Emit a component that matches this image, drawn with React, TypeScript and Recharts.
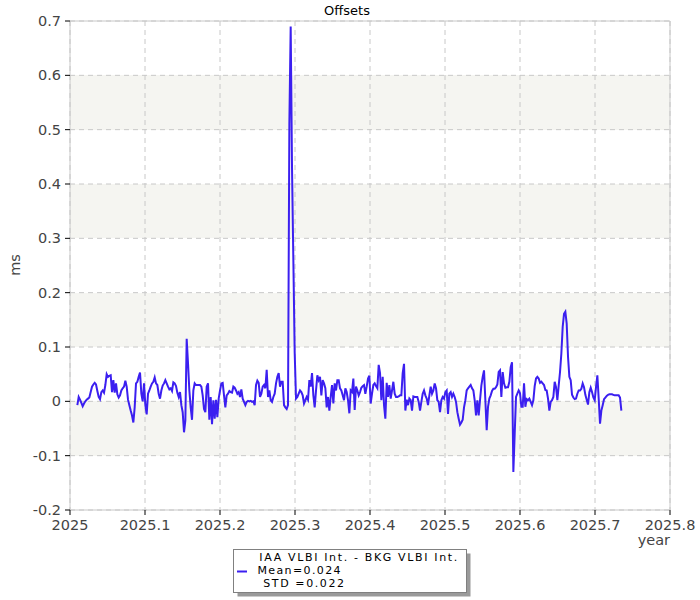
import { LineChart, Line, XAxis, YAxis, CartesianGrid, ReferenceLine } from "recharts"

// daily-ish offsets (ms), first sample at firstYear
const firstYear = 2025.0098
const yearStep = 0.0017778

const offsetsA = [
  -0.007, 0.008, 0.003, -0.003, -0.009, -0.004, 0.0, 0.003, 0.005, 0.007,
  0.017, 0.027, 0.031, 0.034, 0.031, 0.019, 0.008, 0.004, 0.017, 0.02,
  0.016, 0.03, 0.05, 0.045, 0.047, 0.048, 0.017, 0.039, 0.016, 0.033,
  0.013, 0.007, 0.011, 0.02, 0.024, 0.027, 0.038, 0.027, 0.003, -0.007,
  -0.017, -0.026, -0.039, -0.011, 0.033, 0.036, 0.045, 0.053, 0.014, 0.0,
  0.033, -0.007, -0.024, 0.014, 0.02, 0.027, 0.033, 0.036, 0.044, 0.033,
  0.03, 0.014, 0.005, 0.02, 0.029, 0.033, 0.039, 0.033, 0.027, 0.022,
  0.024, 0.019, 0.035, 0.033, 0.028, 0.016, 0.008, 0.017, -0.007, -0.02,
  -0.057, -0.035, 0.115, 0.07, 0.02, -0.011, -0.034, 0.02, 0.033, 0.03,
  0.03, 0.03, 0.03, 0.027, 0.011, -0.014, -0.02, 0.027, 0.033, -0.034,
]
const offsetsB = [
  0.008, -0.042, 0.002, -0.032, 0.003, -0.029, 0.005, 0.02, 0.033, 0.034,
  0.011, -0.011, 0.011, 0.014, 0.019, 0.017, 0.016, 0.027, 0.025, 0.02,
  0.014, 0.017, 0.008, 0.022, 0.005, -0.001, -0.007, -0.001, 0.001, 0.0,
  0.001, -0.001, 0.0, -0.007, 0.03, 0.038, 0.034, 0.008, 0.014, 0.027,
  0.03, 0.024, 0.058, 0.008, 0.02, 0.002, -0.001, 0.008, 0.014, 0.033,
  0.045, 0.052, 0.027, 0.036, 0.036, -0.007, -0.011, -0.014, -0.007, 0.51,
  0.69, 0.43, 0.26, 0.09, 0.005, 0.008, 0.014, 0.02, 0.017, 0.011,
  -0.004, 0.002, 0.008, 0.003, 0.039, 0.027, 0.052, 0.011, -0.011, 0.02,
  0.048, 0.039, 0.045, 0.011, 0.039, 0.033, 0.024, -0.011, 0.008, -0.017,
  0.008, 0.03, -0.004, 0.033, 0.02, 0.039, 0.039, 0.024, 0.02, 0.011,
]
const offsetsC = [
  0.002, 0.024, 0.017, 0.002, -0.022, 0.02, 0.017, 0.042, -0.016, 0.027,
  0.02, 0.011, 0.017, 0.025, 0.028, 0.03, 0.014, 0.027, 0.042, 0.047,
  -0.004, 0.014, 0.03, 0.033, 0.028, 0.024, 0.067, 0.052, 0.002, 0.045,
  -0.007, -0.032, 0.034, 0.008, 0.03, 0.005, 0.02, 0.036, 0.014, 0.008,
  0.008, 0.009, 0.011, 0.011, 0.052, 0.069, -0.017, 0.003, -0.007, 0.005,
  0.002, -0.017, 0.009, 0.008, 0.008, 0.008, -0.001, -0.017, -0.001, 0.014,
  0.02, 0.011, 0.005, -0.007, 0.011, 0.027, 0.014, 0.02, 0.033, 0.024,
  0.002, -0.001, -0.02, 0.002, 0.008, 0.005, 0.017, 0.02, -0.023, 0.014,
  0.017, 0.008, 0.014, 0.008, -0.001, -0.02, -0.032, -0.043, -0.039, -0.034,
  -0.011, 0.002, 0.02, 0.024, 0.027, 0.03, 0.024, 0.02, 0.002,
]
const offsetsD = [
  -0.026, 0.002, -0.026, 0.002, 0.029, 0.045, 0.057, 0.002, -0.053, -0.01, 0.005,
  0.011, 0.019, 0.023, 0.023, 0.026, 0.031, 0.054, 0.057, 0.008, 0.054,
  0.033, 0.025, 0.026, 0.026, 0.036, 0.063, 0.072, -0.13, -0.06, 0.008,
  0.014, 0.02, 0.015, -0.01, -0.01, 0.033, -0.01, 0.004, 0.002, 0.005,
  -0.001, -0.007, 0.002, 0.028, 0.042, 0.045, 0.042, 0.034, 0.036, 0.033,
  0.03, 0.021, 0.02, 0.005, -0.017, -0.001, 0.002, 0.008, 0.036, 0.026,
  0.002, 0.029, 0.054, 0.088, 0.137, 0.161, 0.165, 0.143, 0.082, 0.045,
  0.039, 0.012, 0.007, 0.004, 0.005, 0.014, 0.02, 0.02, 0.023, 0.033,
  0.026, 0.012, 0.003, -0.006, 0.017, 0.025, 0.017, 0.007, 0.002, 0.026,
  0.048, 0.005, -0.041, -0.017, -0.007, 0.004, 0.007, 0.01, 0.012, 0.013,
  0.013, 0.013, 0.012, 0.011, 0.011, 0.011, 0.011, 0.007, -0.017,
]

const yearTicks = [2025, 2025.1, 2025.2, 2025.3, 2025.4, 2025.5, 2025.6, 2025.7, 2025.8]
const msTicks = [-0.2, -0.1, 0, 0.1, 0.2, 0.3, 0.4, 0.5, 0.6, 0.7]

const title = "Offsets"
const seriesName = "IAA VLBI Int. - BKG VLBI Int."
const meanText = "Mean=0.024"
const stdText = "STD =0.022"

const lineColor = "#3b1ff0"
const font = "DejaVu Sans"

const data = [...offsetsA, ...offsetsB, ...offsetsC, ...offsetsD].map((v, i) => ({
  year: firstYear + i * yearStep,
  offset: v,
}))

const fmt = (v: number) => String(Math.round(v * 10) / 10)
const tickStyle = { fontSize: 14.5, fill: "#444", fontFamily: font }

export default function App() {
  return (
    <div style={{ position: "absolute", left: 0, top: 0, width: 700, height: 600, background: "#fff" }}>
      <LineChart width={700} height={600} data={data} margin={{ top: 21, right: 30, bottom: 60, left: 10 }}>
        <CartesianGrid stroke="#c8c8c8" strokeDasharray="5 4" horizontalFill={["#ffffff", "#f5f5f1"]} />
        <XAxis
          type="number"
          dataKey="year"
          domain={[2025, 2025.8]}
          ticks={yearTicks}
          tickFormatter={fmt}
          height={30}
          tickSize={5}
          tickMargin={5}
          tick={tickStyle}
          axisLine={{ stroke: "#c8c8c8" }}
          tickLine={{ stroke: "#000" }}
          allowDataOverflow
        />
        <YAxis
          type="number"
          domain={[-0.2, 0.7]}
          ticks={msTicks}
          tickFormatter={fmt}
          width={60}
          tickSize={5}
          tickMargin={4}
          tick={tickStyle}
          axisLine={{ stroke: "#c8c8c8" }}
          tickLine={{ stroke: "#000" }}
          allowDataOverflow
        />
        <ReferenceLine y={0.7} stroke="#c8c8c8" />
        <ReferenceLine x={2025.8} stroke="#c8c8c8" />
        <Line
          type="linear"
          dataKey="offset"
          stroke={lineColor}
          strokeWidth={2}
          dot={false}
          isAnimationActive={false}
        />
      </LineChart>
      <svg width={700} height={600} style={{ position: "absolute", left: 0, top: 0, pointerEvents: "none" }}>
        <text x={347} y={15} textAnchor="middle" fontSize={13} fontFamily={font} fill="#000">
          {title}
        </text>
        <text x={20} y={265} textAnchor="middle" fontSize={14.5} fontFamily={font} fill="#444" transform="rotate(-90 20 265)">
          ms
        </text>
        <text x={670} y={545} textAnchor="end" fontSize={14.5} fontFamily={font} fill="#444">
          year
        </text>
        <rect x={237.5} y={553.5} width={233} height={43} fill="#9a9a9a" />
        <rect x={233.5} y={549.5} width={233} height={43} fill="#fff" stroke="#808080" />
        <line x1={237} x2={247} y1={571.5} y2={571.5} stroke={lineColor} strokeWidth={2} />
        <text x={259.3} y={560.5} fontSize={11} fontFamily={font} fill="#000" textLength={198} lengthAdjust="spacing">
          {seriesName}
        </text>
        <text x={257.5} y={573.8} fontSize={11} fontFamily={font} fill="#000" textLength={83} lengthAdjust="spacing">
          {meanText}
        </text>
        <text x={263.3} y={587} fontSize={11} fontFamily={font} fill="#000" textLength={80.7} lengthAdjust="spacing">
          {stdText}
        </text>
      </svg>
    </div>
  )
}
